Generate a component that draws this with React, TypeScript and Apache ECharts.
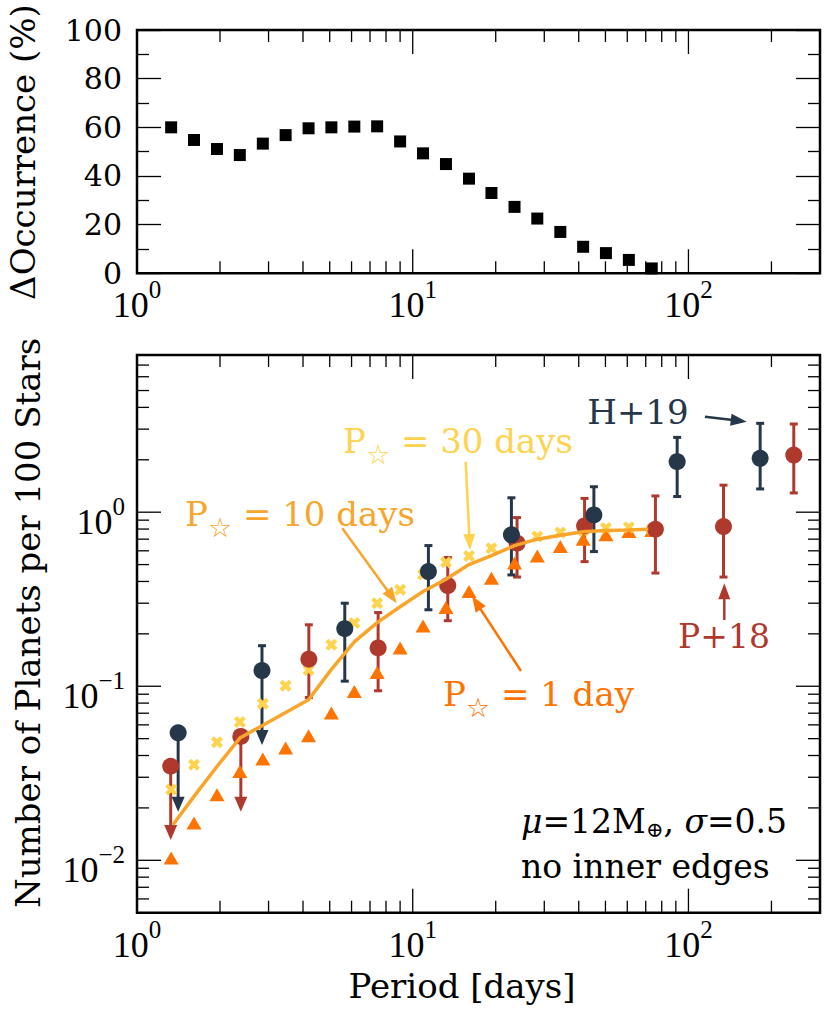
import React, { useEffect, useRef } from 'react';
import * as echarts from 'echarts';

// ---------- data ----------
const modelPeriods = [1.33, 1.61, 1.95, 2.36, 2.86, 3.46, 4.19, 5.07, 6.14, 7.43, 9.0, 10.9, 13.2, 16.0, 19.3, 23.4, 28.3, 34.3, 41.5, 50.2, 60.8, 73.6];
const deltaOccurrence = [60.0, 54.8, 51.1, 48.6, 53.3, 56.8, 59.6, 60.0, 60.3, 60.4, 54.2, 49.3, 44.9, 38.9, 33.0, 27.3, 22.5, 17.0, 10.9, 8.3, 5.5, 2.0];
const rateP1day = [0.0103, 0.0164, 0.0238, 0.0324, 0.0382, 0.0442, 0.052, 0.0702, 0.0933, 0.12, 0.166, 0.222, 0.283, 0.35, 0.418, 0.51, 0.561, 0.635, 0.7, 0.741, 0.774, 0.785];
const rateP30days = [0.0255, 0.0354, 0.0476, 0.0623, 0.0794, 0.1006, 0.124, 0.173, 0.2306, 0.3, 0.358, 0.438, 0.516, 0.561, 0.621, 0.69, 0.724, 0.764, 0.786, 0.81, 0.82, 0.8];
const linePeriods = [1.35, 1.61, 1.95, 2.36, 2.86, 3.46, 4.19, 5.07, 6.14, 7.43, 9.0, 10.9, 13.2, 16.0, 19.3, 23.4, 28.3, 34.3, 41.5, 50.2, 60.8, 71.5];
const rateP10days = [0.016, 0.0233, 0.0346, 0.0504, 0.0597, 0.0706, 0.0836, 0.125, 0.18, 0.232, 0.286, 0.35, 0.412, 0.5, 0.563, 0.643, 0.7, 0.738, 0.773, 0.785, 0.791, 0.798];

const h19Period = [1.41, 2.84, 5.67, 11.4, 22.8, 45.4, 91, 182];
const h19Rate = [0.054, 0.123, 0.214, 0.456, 0.741, 0.965, 1.95, 2.04];
const h19Lower = [0.019, 0.046, 0.107, 0.275, 0.436, 0.594, 1.23, 1.36];
const h19Upper = [null, 0.171, 0.3, 0.643, 1.21, 1.4, 2.69, 3.24];
const h19Limit = [true, true, false, false, false, false, false, false];

const p18Period = [1.325, 2.38, 4.2, 7.49, 13.4, 23.9, 42, 75.9, 134, 241];
const p18Rate = [0.0347, 0.0515, 0.143, 0.166, 0.379, 0.664, 0.834, 0.798, 0.827, 2.13];
const p18Lower = [0.0131, 0.019, 0.0862, 0.0942, 0.238, 0.424, 0.52, 0.447, 0.424, 1.29];
const p18Upper = [null, null, 0.2255, 0.265, 0.549, 0.931, 1.2, 1.24, 1.43, 3.21];
const p18Limit = [true, true, false, false, false, false, false, false, false, false];

const xMajorTicks = [10, 100];
const xMinorTicks = [2, 3, 4, 5, 6, 7, 8, 9, 20, 30, 40, 50, 60, 70, 80, 90, 200];
const yLogMajorTicks = [0.01, 0.1, 1];
const yLogMinorTicks = [0.006, 0.007, 0.008, 0.009, 0.02, 0.03, 0.04, 0.05, 0.06, 0.07, 0.08, 0.09, 0.2, 0.3, 0.4, 0.5, 0.6, 0.7, 0.8, 0.9, 2, 3, 4, 5, 6, 7];

// ---------- styles ----------
const SERIF = "'DejaVu Serif', serif";
const MATH = "'Liberation Serif', serif";
const NAVY = '#253748';
const RED = '#b0392e';
const ORANGE = '#ff7300';
const GOLD = '#f9a52b';
const YELLOW = '#ffd34e';
const XPATH = 'path://M0,3 L3,0 L6,3 L9,0 L12,3 L9,6 L12,9 L9,12 L6,9 L3,12 L0,9 L3,6 Z';

const powLabel = (v: number) => {
  const l = Math.log10(v);
  const e = Math.round(l);
  if (Math.abs(l - e) > 1e-6) return '';
  return `{b|10}{s|${e < 0 ? '\u2212' + -e : e}}`;
};
const powRich = {
  b: { fontFamily: MATH, fontSize: 36, lineHeight: 36, padding: [10, 0, 0, 0], verticalAlign: 'top', color: '#000' },
  s: { fontFamily: MATH, fontSize: 25, lineHeight: 25, verticalAlign: 'top', color: '#000' },
};

function tickRender(params: any, api: any) {
  const cs = params.coordSys;
  const kind = api.value(2);
  const len = api.value(3) ? 24 : 12;
  const p = api.coord([api.value(0), api.value(1)]);
  const style = { stroke: '#000', lineWidth: 1.3 };
  if (kind === 0) {
    const x = p[0];
    return {
      type: 'group',
      children: [
        { type: 'line', shape: { x1: x, y1: cs.y + cs.height, x2: x, y2: cs.y + cs.height - len }, style },
        { type: 'line', shape: { x1: x, y1: cs.y, x2: x, y2: cs.y + len }, style },
      ],
    };
  }
  const y = p[1];
  return {
    type: 'group',
    children: [
      { type: 'line', shape: { x1: cs.x, y1: y, x2: cs.x + len, y2: y }, style },
      { type: 'line', shape: { x1: cs.x + cs.width, y1: y, x2: cs.x + cs.width - len, y2: y }, style },
    ],
  };
}

function errRender(period: number[], rate: number[], lower: number[], upper: (number | null)[], limit: boolean[], color: string) {
  return (params: any, api: any) => {
    const i = params.dataIndex;
    const c = api.coord([period[i], rate[i]]);
    const lo = api.coord([period[i], lower[i]]);
    const st = { stroke: color, lineWidth: 3 };
    const x = c[0];
    const children: any[] = [];
    let topY = c[1];
    const up = upper[i];
    if (up != null) {
      const hi = api.coord([period[i], up]);
      topY = hi[1];
      children.push({ type: 'line', shape: { x1: x - 4, y1: hi[1], x2: x + 4, y2: hi[1] }, style: st });
    }
    if (limit[i]) {
      const head = 15;
      children.push({ type: 'line', shape: { x1: x, y1: topY, x2: x, y2: lo[1] - head + 2 }, style: st });
      children.push({ type: 'polygon', shape: { points: [[x - 6.5, lo[1] - head], [x + 6.5, lo[1] - head], [x, lo[1]]] }, style: { fill: color } });
    } else {
      children.push({ type: 'line', shape: { x1: x, y1: topY, x2: x, y2: lo[1] }, style: st });
      children.push({ type: 'line', shape: { x1: x - 4, y1: lo[1], x2: x + 4, y2: lo[1] }, style: st });
    }
    return { type: 'group', children };
  };
}

function arrow(x1: number, y1: number, x2: number, y2: number, color: string) {
  const headLen = 16, headW = 6;
  const dx = x2 - x1, dy = y2 - y1;
  const L = Math.hypot(dx, dy);
  const ux = dx / L, uy = dy / L;
  const bx = x2 - ux * headLen, by = y2 - uy * headLen;
  return [
    { type: 'line', silent: true, shape: { x1, y1, x2: bx + ux * 2, y2: by + uy * 2 }, style: { stroke: color, lineWidth: 2.5 } },
    { type: 'polygon', silent: true, shape: { points: [[x2, y2], [bx - uy * headW, by + ux * headW], [bx + uy * headW, by - ux * headW]] }, style: { fill: color } },
  ];
}

function pstarLabel(x: number, y: number, rest: string, color: string) {
  return {
    type: 'text', x, y, silent: true,
    style: {
      text: `{p|P}{s|\u2606}{t|${rest}}`,
      align: 'left', verticalAlign: 'middle',
      rich: {
        p: { fontFamily: SERIF, fontSize: 34, lineHeight: 34, verticalAlign: 'top', fill: color },
        s: { fontFamily: "'DejaVu Sans', sans-serif", fontSize: 27, lineHeight: 27, padding: [17, 0, 0, 0], verticalAlign: 'top', fill: color },
        t: { fontFamily: SERIF, fontSize: 34, lineHeight: 34, verticalAlign: 'top', fill: color },
      },
    },
  };
}

export default function App() {
  const ref = useRef<HTMLDivElement>(null);
  useEffect(() => {
    document.body.style.margin = '0';
    const chart = echarts.init(ref.current!, undefined, { renderer: 'svg' });

    const xTickData = (yRef: number) => [
      ...xMajorTicks.map((v) => [v, yRef, 0, 1]),
      ...xMinorTicks.map((v) => [v, yRef, 0, 0]),
    ];
    const yTickData = [
      ...yLogMajorTicks.map((v) => [10, v, 1, 1]),
      ...yLogMinorTicks.map((v) => [10, v, 1, 0]),
    ];

    const logX = (gridIndex: number) => ({
      type: 'log', logBase: 10, gridIndex, min: 1, max: 300,
      axisLine: { show: false }, axisTick: { show: false }, splitLine: { show: false },
      axisLabel: { formatter: powLabel, rich: powRich, margin: 4, color: '#000' },
    });
    const linY = (position: string, showLabel: boolean) => ({
      type: 'value', gridIndex: 0, min: 0, max: 100, interval: 20, position,
      axisLine: { show: false }, splitLine: { show: false },
      axisTick: { show: true, inside: true, length: 24, lineStyle: { color: '#000', width: 1.3 } },
      minorTick: { show: true, splitNumber: 2, length: 12, lineStyle: { color: '#000', width: 1.3 } },
      axisLabel: { show: showLabel, fontFamily: SERIF, fontSize: 30, color: '#000', margin: 15 },
    });
    const solid = (color: string) => ({ color, opacity: 1 });

    const option: any = {
      animation: false,
      backgroundColor: '#fff',
      grid: [
        { left: 137, top: 30, width: 683, height: 243.3, show: true, borderColor: '#000', borderWidth: 2.5, backgroundColor: 'transparent' },
        { left: 137, top: 355, width: 683, height: 557.7, show: true, borderColor: '#000', borderWidth: 2.5, backgroundColor: 'transparent' },
      ],
      xAxis: [logX(0), logX(1)],
      yAxis: [
        linY('left', true),
        linY('right', false),
        {
          type: 'log', logBase: 10, gridIndex: 1, min: 0.005, max: 8,
          axisLine: { show: false }, axisTick: { show: false }, splitLine: { show: false },
          axisLabel: { formatter: powLabel, rich: powRich, margin: 12, color: '#000' },
        },
      ],
      series: [
        { type: 'custom', xAxisIndex: 0, yAxisIndex: 0, silent: true, renderItem: tickRender, data: xTickData(50), z: 5 },
        { type: 'custom', xAxisIndex: 1, yAxisIndex: 2, silent: true, renderItem: tickRender, data: [...xTickData(1), ...yTickData], z: 5 },
        {
          name: 'ΔOccurrence', type: 'scatter', xAxisIndex: 0, yAxisIndex: 0, symbol: 'rect', symbolSize: 12,
          itemStyle: solid('#000'), data: modelPeriods.map((p, i) => [p, deltaOccurrence[i]]),
        },
        {
          name: 'P* = 10 days', type: 'line', xAxisIndex: 1, yAxisIndex: 2, showSymbol: false, symbol: 'none',
          lineStyle: { color: GOLD, width: 3.5, opacity: 1 }, data: linePeriods.map((p, i) => [p, rateP10days[i]]),
        },
        {
          name: 'P* = 1 day', type: 'scatter', xAxisIndex: 1, yAxisIndex: 2, symbol: 'triangle', symbolSize: [15, 13],
          itemStyle: solid(ORANGE), data: modelPeriods.map((p, i) => [p, rateP1day[i]]),
        },
        {
          name: 'P* = 30 days', type: 'scatter', xAxisIndex: 1, yAxisIndex: 2, symbol: XPATH, symbolSize: 12,
          itemStyle: solid(YELLOW), data: modelPeriods.map((p, i) => [p, rateP30days[i]]),
        },
        {
          type: 'custom', xAxisIndex: 1, yAxisIndex: 2, silent: true,
          renderItem: errRender(p18Period, p18Rate, p18Lower, p18Upper, p18Limit, RED),
          data: p18Period.map((p, i) => [p, p18Rate[i]]),
        },
        {
          name: 'P+18', type: 'scatter', xAxisIndex: 1, yAxisIndex: 2, symbol: 'circle', symbolSize: 17,
          itemStyle: solid(RED), data: p18Period.map((p, i) => [p, p18Rate[i]]),
        },
        {
          type: 'custom', xAxisIndex: 1, yAxisIndex: 2, silent: true,
          renderItem: errRender(h19Period, h19Rate, h19Lower, h19Upper, h19Limit, NAVY),
          data: h19Period.map((p, i) => [p, h19Rate[i]]),
        },
        {
          name: 'H+19', type: 'scatter', xAxisIndex: 1, yAxisIndex: 2, symbol: 'circle', symbolSize: 17,
          itemStyle: solid(NAVY), data: h19Period.map((p, i) => [p, h19Rate[i]]),
        },
      ],
      graphic: [
        { type: 'text', x: 23, y: 152, rotation: Math.PI / 2, silent: true,
          style: { text: '\u0394Occurrence (%)', fontFamily: SERIF, fontSize: 34, fill: '#000', align: 'center', verticalAlign: 'middle' } },
        { type: 'text', x: 28, y: 623, rotation: Math.PI / 2, silent: true,
          style: { text: 'Number of Planets per 100 Stars', fontFamily: SERIF, fontSize: 34, fill: '#000', align: 'center', verticalAlign: 'middle' } },
        { type: 'text', x: 462, y: 986, silent: true,
          style: { text: 'Period [days]', fontFamily: SERIF, fontSize: 34, fill: '#000', align: 'center', verticalAlign: 'middle' } },
        { type: 'text', x: 638, y: 412, silent: true,
          style: { text: 'H+19', fontFamily: SERIF, fontSize: 34, fill: NAVY, align: 'center', verticalAlign: 'middle' } },
        { type: 'text', x: 724, y: 636, silent: true,
          style: { text: 'P+18', fontFamily: SERIF, fontSize: 33, fill: RED, align: 'center', verticalAlign: 'middle' } },
        pstarLabel(343, 441, ' = 30 days', YELLOW),
        pstarLabel(185, 514, ' = 10 days', GOLD),
        pstarLabel(443, 694, ' = 1 day', ORANGE),
        { type: 'text', x: 521, y: 821, silent: true,
          style: {
            text: '{i|\u03bc}{n|=12M}{o|\u2295}{n|, }{i|\u03c3}{n|=0.5}', align: 'left', verticalAlign: 'middle',
            rich: {
              i: { fontFamily: SERIF, fontSize: 33, fontStyle: 'italic', lineHeight: 33, verticalAlign: 'top', fill: '#000' },
              n: { fontFamily: SERIF, fontSize: 33, lineHeight: 33, verticalAlign: 'top', fill: '#000' },
              o: { fontFamily: SERIF, fontSize: 21, lineHeight: 21, padding: [15, 0, 0, 0], verticalAlign: 'top', fill: '#000' },
            },
          } },
        { type: 'text', x: 521, y: 866, silent: true,
          style: { text: 'no inner edges', fontFamily: SERIF, fontSize: 33, fill: '#000', align: 'left', verticalAlign: 'middle' } },
        ...arrow(465.7, 461.7, 470, 550, YELLOW),
        ...arrow(342.3, 528.3, 396.7, 603.3, GOLD),
        ...arrow(521, 671, 472, 596, ORANGE),
        ...arrow(705, 416.7, 746.7, 421.7, NAVY),
        ...arrow(724.3, 620, 724.3, 583.3, RED),
      ],
    };
    chart.setOption(option);
    return () => chart.dispose();
  }, []);
  return <div ref={ref} style={{ width: 830, height: 1015 }} />;
}
